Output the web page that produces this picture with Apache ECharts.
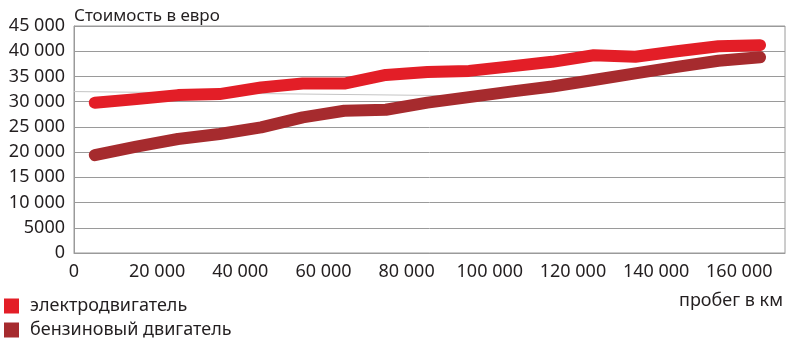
<!DOCTYPE html>
<html><head><meta charset="utf-8">
<script src="https://cdn.jsdelivr.net/npm/echarts@6/dist/echarts.min.js"></script>
<style>html,body{margin:0;padding:0;background:#fff}#c{width:790px;height:344px}</style>
</head><body><div id="c"></div>
<script>
var mileage = [5000,15000,25000,35000,45000,55000,65000,75000,85000,95000,105000,115000,125000,135000,145000,155000,165000];
var electric = [29800,30500,31300,31500,32800,33600,33600,35300,35900,36100,37000,37900,39200,38900,40000,41000,41200];
var petrol = [19400,21100,22600,23600,24900,26900,28200,28400,29800,30900,32000,33000,34300,35600,36900,38100,38800];
var strayX = [0, 90000];
var strayY = [32000, 31200];
var seriesNames = ['электродвигатель', 'бензиновый двигатель'];
var yTitle = 'Стоимость в евро';
var xTitle = 'пробег в км';

function fmt(v){
  if (v < 10000) return String(v);
  var s = String(v);
  return s.slice(0, s.length-3) + ' ' + s.slice(s.length-3);
}
function pairs(xs, ys){ return xs.map(function(x,i){ return [x, ys[i]]; }); }

var FONT = '"Noto Sans", sans-serif';
var TXT = '#231f20';
function legendFor(name, top){
  return {
    left: 4, top: top, itemWidth: 15, itemHeight: 15, icon: 'rect', padding: 0,
    data: [name],
    textStyle: {fontFamily: FONT, fontSize: 18, color: TXT, padding: [0,0,0,6]}
  };
}
var chart = echarts.init(document.getElementById('c'), null, {renderer:'canvas'});
chart.setOption({
  animation: false,
  textStyle: {fontFamily: FONT},
  grid: {left: 74, right: 5, top: 26, bottom: 91, show: true, borderColor: '#9a9a9a', borderWidth: 1},
  title: {text: yTitle, left: 69, top: 3, textStyle: {fontFamily: FONT, fontSize: 17, fontWeight: 'normal', color: TXT}},
  graphic: [{type: 'text', right: 7, top: 292, style: {text: xTitle, font: '18px ' + FONT, fill: TXT}}],
  legend: [legendFor(seriesNames[0], 297), legendFor(seriesNames[1], 321)],
  xAxis: {
    type: 'value', min: 0, max: 171000, interval: 20000,
    axisLine: {show: true, lineStyle: {color: '#9a9a9a'}},
    axisTick: {show: false},
    splitLine: {show: false},
    axisLabel: {formatter: fmt, fontFamily: FONT, fontSize: 18, color: TXT, margin: 10, showMaxLabel: false}
  },
  yAxis: {
    type: 'value', min: 0, max: 45000, interval: 5000,
    axisLine: {show: true, lineStyle: {color: '#9a9a9a'}},
    axisTick: {show: false},
    splitLine: {show: true, lineStyle: {color: '#9a9a9a', width: 1}},
    axisLabel: {formatter: fmt, fontFamily: FONT, fontSize: 18, color: TXT, margin: 9}
  },
  series: [
    {name: 'stray', type: 'line', data: pairs(strayX, strayY), showSymbol: false, silent: true, z: 1,
     lineStyle: {color: '#c4c4c4', width: 1}},
    {name: seriesNames[1], type: 'line', data: pairs(mileage, petrol), showSymbol: false, z: 2,
     itemStyle: {color: '#a62b2e'}, lineStyle: {color: '#a62b2e', width: 12, cap: 'round', join: 'round'}},
    {name: seriesNames[0], type: 'line', data: pairs(mileage, electric), showSymbol: false, z: 3,
     itemStyle: {color: '#e31e27'}, lineStyle: {color: '#e31e27', width: 12, cap: 'round', join: 'round'}}
  ]
});
</script></body></html>
